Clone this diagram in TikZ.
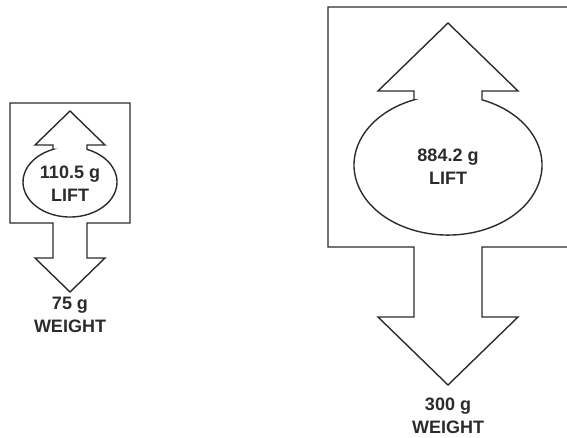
\documentclass[tikz,border=0pt]{standalone}
\usepackage{fontspec}
\setmainfont{Liberation Sans}
\usepackage{xcolor}
\usetikzlibrary{positioning}
\definecolor{inkgray}{HTML}{2B2B2B}

\begin{document}
\begin{tikzpicture}[x=1pt, y=1pt,
    outline/.style={draw=inkgray, line width=1.4pt, line join=miter},
    tag/.style={text=inkgray, font=\bfseries\fontsize{18}{23}\selectfont, align=center, inner sep=0pt}]
  \useasboundingbox (0,0) rectangle (567,437);
  % lift arrow with its bulb, then the box running into the weight arrow
  \def\balloon#1#2#3{
    \begin{scope}[shift={(#1,#2)}, scale=#3]
      \draw[outline] (-17,32.6) -- (-17,37) -- (-35,37) -- (0,71) -- (35,37) -- (17,37) -- (17,32.6)
        arc[start angle=68.8, end angle=-248.8, x radius=47, y radius=35] -- cycle;
      \draw[outline] (17,-41) -- (60,-41) -- (60,79) -- (-60,79) -- (-60,-41) -- (-17,-41)
        -- (-17,-76) -- (-35,-76) -- (0,-110) -- (35,-76) -- (17,-76) -- cycle;
    \end{scope}}
  \balloon{70}{255}{1}
  \node[tag] (smalllift) at (70,253) {110.5 g\\LIFT};
  \coordinate (smalltip) at (70,145);
  \node[tag, below=5pt of smalltip] (smallweight) {75 g\\WEIGHT};

  \balloon{448}{272}{2}
  \node[tag] (biglift) at (448,270) {884.2 g\\LIFT};
  \coordinate (bigtip) at (448,52);
  \node[tag, below=13pt of bigtip] (bigweight) {300 g\\WEIGHT};
\end{tikzpicture}
\end{document}
